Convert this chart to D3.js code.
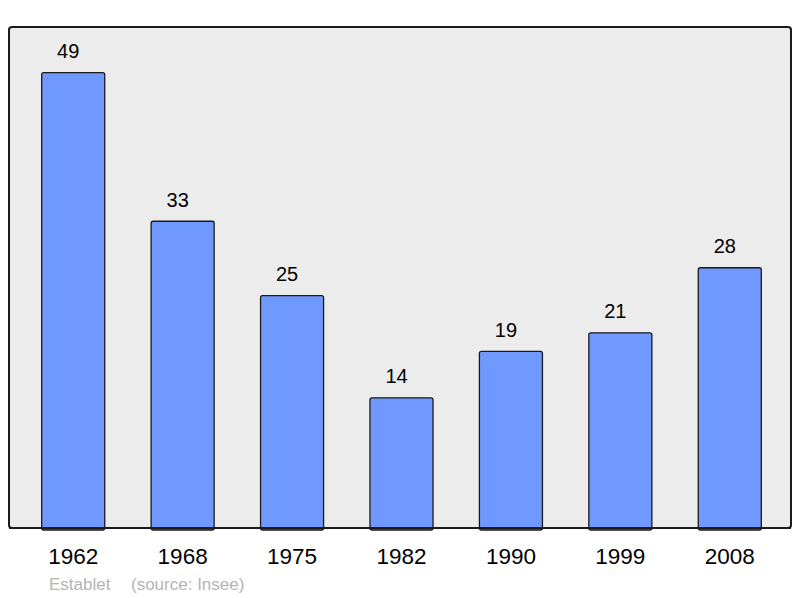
<!DOCTYPE html>
<html><head><meta charset="utf-8">
<script src="https://cdn.jsdelivr.net/npm/d3@7"></script>
<style>html,body{margin:0;padding:0;background:#fff;}svg{display:block;}</style>
</head><body>
<script>
const years = ["1962","1968","1975","1982","1990","1999","2008"];
const population = [49,33,25,14,19,21,28];
const commune = "Establet";
const source = "(source: Insee)";

const W = 800, H = 598;
const FONT = "Liberation Sans, Arial, sans-serif";
const svg = d3.select("body").append("svg").attr("width", W).attr("height", H);
const frame = {x0: 9, x1: 791, y0: 27, y1: 528};

const x = d3.scaleBand().domain(years).range([18.5, 784.5]).paddingInner(0.424).paddingOuter(0.212);
const y = d3.scaleLinear().domain([0, d3.max(population) * 1.1]).range([frame.y1, frame.y0]);

svg.append("rect").attr("x", frame.x0).attr("y", frame.y0)
  .attr("width", frame.x1 - frame.x0).attr("height", frame.y1 - frame.y0)
  .attr("rx", 3).attr("fill", "#ececec").attr("stroke", "#1a1a1a").attr("stroke-width", 2);

const data = years.map((yr, i) => ({yr, v: population[i]}));

svg.selectAll("rect.bar").data(data).enter().append("rect").attr("class", "bar")
  .attr("x", d => x(d.yr)).attr("y", d => y(d.v))
  .attr("width", x.bandwidth()).attr("height", d => y(0) - y(d.v) + 2)
  .attr("rx", 2).attr("fill", "#7099ff").attr("stroke", "#1a1a1a").attr("stroke-width", 1.3);

svg.append("line").attr("x1", frame.x0).attr("x2", frame.x1).attr("y1", frame.y1).attr("y2", frame.y1)
  .attr("stroke", "#1a1a1a").attr("stroke-width", 2);

svg.selectAll("text.val").data(data).enter().append("text").attr("class", "val")
  .attr("x", d => x(d.yr) + x.bandwidth() / 2 - 5).attr("y", d => y(d.v) - 14.5)
  .attr("text-anchor", "middle").attr("font-family", FONT)
  .attr("font-size", 20).attr("fill", "#000").text(d => d.v);

svg.selectAll("text.yr").data(data).enter().append("text").attr("class", "yr")
  .attr("x", d => x(d.yr) + x.bandwidth() / 2).attr("y", 564)
  .attr("text-anchor", "middle").attr("font-family", FONT)
  .attr("font-size", 22.5).attr("fill", "#000").text(d => d.yr);

svg.append("text").attr("x", 49).attr("y", 590).attr("font-family", FONT)
  .attr("font-size", 17).attr("fill", "#b4b4b4").text(commune);
svg.append("text").attr("x", 131).attr("y", 590).attr("font-family", FONT)
  .attr("font-size", 17).attr("fill", "#b4b4b4").text(source);
</script>
</body></html>
